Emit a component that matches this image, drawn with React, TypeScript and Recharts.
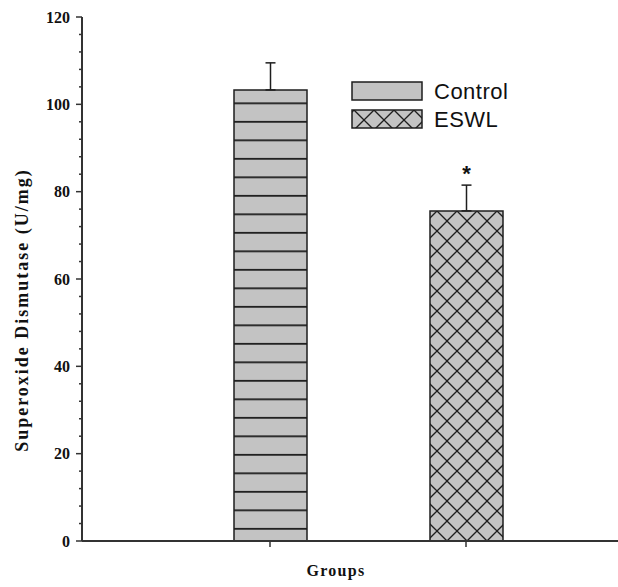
import React from "react";
import { BarChart, Bar, XAxis, YAxis, ErrorBar, Cell, LabelList, Legend } from "recharts";

const groups = ["Control", "ESWL"];
const sodMeans = [103.3, 75.6];
const sodErrors = [6.2, 5.9];
const significance = ["", "*"];
const yTicks = [0, 4, 8, 12, 16, 20, 24, 28, 32, 36, 40, 44, 48, 52, 56, 60, 64, 68, 72, 76, 80, 84, 88, 92, 96, 100, 104, 108, 112, 116, 120];

const data = groups.map((g, i) => ({
  group: g,
  sod: sodMeans[i],
  err: [0, sodErrors[i]],
  sig: significance[i],
}));

const fills = ["url(#hlines)", "url(#xhatch)"];
const SERIF = "'Liberation Serif', 'DejaVu Serif', serif";
const SANS = "'Liberation Sans', Arial, sans-serif";

function YTick(props: any) {
  const { x, y, payload } = props;
  const major = payload.value % 20 === 0;
  return (
    <g>
      <line x1={x} x2={x - (major ? 6 : 3)} y1={y} y2={y} stroke="#333" strokeWidth={1.5} />
      {major && (
        <text x={x - 12} y={y} dy="0.36em" textAnchor="end" fontFamily={SERIF} fontWeight="bold" fontSize={16} fill="#111">
          {payload.value}
        </text>
      )}
    </g>
  );
}

function HatchDefs({ prefix, x0, y0 }: { prefix: string; x0: number; y0: number }) {
  return (
    <defs>
      <pattern id={prefix + "hlines"} patternUnits="userSpaceOnUse" x={0} y={9.9} width={20} height={18.5}>
        <rect x={0} y={0} width={20} height={18.5} fill="#c3c3c3" />
        <rect x={0} y={0} width={20} height={1.8} fill="#1e1e1e" />
      </pattern>
      <pattern id={prefix + "xhatch"} patternUnits="userSpaceOnUse" x={x0} y={y0} width={20} height={20}>
        <rect x={0} y={0} width={20} height={20} fill="#c3c3c3" />
        <g stroke="#1e1e1e" strokeWidth={1.3}>
          <line x1={-2} y1={-2} x2={22} y2={22} />
          <line x1={22} y1={-2} x2={-2} y2={22} />
          <line x1={18} y1={-2} x2={22} y2={2} />
          <line x1={-2} y1={18} x2={2} y2={22} />
          <line x1={-2} y1={2} x2={2} y2={-2} />
          <line x1={18} y1={22} x2={22} y2={18} />
        </g>
      </pattern>
    </defs>
  );
}

function LegendBox() {
  return (
    <svg width={210} height={52} style={{ display: "block", overflow: "visible" }}>
      <HatchDefs prefix="lg-" x0={3} y0={10} />
      <rect x={1} y={2} width={70} height={18} fill="#c3c3c3" stroke="#1e1e1e" strokeWidth={1.5} />
      <text x={83} y={11} dy="0.36em" fontFamily={SANS} fontSize={22} letterSpacing={0.5} fill="#111">
        {groups[0]}
      </text>
      <rect x={1} y={30} width={70} height={18} fill="url(#lg-xhatch)" stroke="#1e1e1e" strokeWidth={1.5} />
      <text x={83} y={39} dy="0.36em" fontFamily={SANS} fontSize={22} letterSpacing={0.5} fill="#111">
        {groups[1]}
      </text>
    </svg>
  );
}

export default function App() {
  return (
    <div style={{ position: "absolute", left: 0, top: 0, width: 618, height: 587, background: "#fff" }}>
      <BarChart width={618} height={587} data={data} margin={{ top: 17, right: 0, bottom: 0, left: 0 }}>
        <HatchDefs prefix="" x0={7} y0={1} />
        <XAxis
          dataKey="group"
          height={46}
          padding={{ left: 90, right: 54 }}
          axisLine={{ stroke: "#333", strokeWidth: 2 }}
          tickLine={{ stroke: "#333", strokeWidth: 1.5 }}
          tickSize={6}
          tickFormatter={() => ""}
          label={{
            content: () => (
              <text x={336} y={576} textAnchor="middle" fontFamily={SERIF} fontWeight="bold" fontSize={16} letterSpacing={1.3} fill="#111">
                Groups
              </text>
            ),
          }}
        />
        <YAxis
          type="number"
          domain={[0, 120]}
          ticks={yTicks}
          interval={0}
          width={82}
          axisLine={{ stroke: "#333", strokeWidth: 2 }}
          tickLine={false}
          tickSize={0}
          tickMargin={0}
          tick={<YTick />}
          label={{
            content: () => (
              <text
                x={22}
                y={310}
                transform="rotate(-90 22 310)"
                textAnchor="middle"
                dy="0.36em"
                fontFamily={SERIF}
                fontWeight="bold"
                fontSize={18}
                letterSpacing={2}
                fill="#111"
              >
                Superoxide Dismutase (U/mg)
              </text>
            ),
          }}
        />
        <Legend
          layout="vertical"
          align="center"
          verticalAlign="middle"
          content={() => <LegendBox />}
          wrapperStyle={{ left: 351, top: 80, width: 210, height: 52 }}
        />
        <Bar dataKey="sod" barSize={73} stroke="#1e1e1e" strokeWidth={1.5} isAnimationActive={false}>
          {data.map((d, i) => (
            <Cell key={d.group} fill={fills[i]} />
          ))}
          <ErrorBar dataKey="err" direction="y" width={5} stroke="#1e1e1e" strokeWidth={1.5} isAnimationActive={false} />
          <LabelList dataKey="sig" position="top" offset={30} fill="#111" fontSize={22} fontWeight="bold" fontFamily={SANS} />
        </Bar>
      </BarChart>
    </div>
  );
}
